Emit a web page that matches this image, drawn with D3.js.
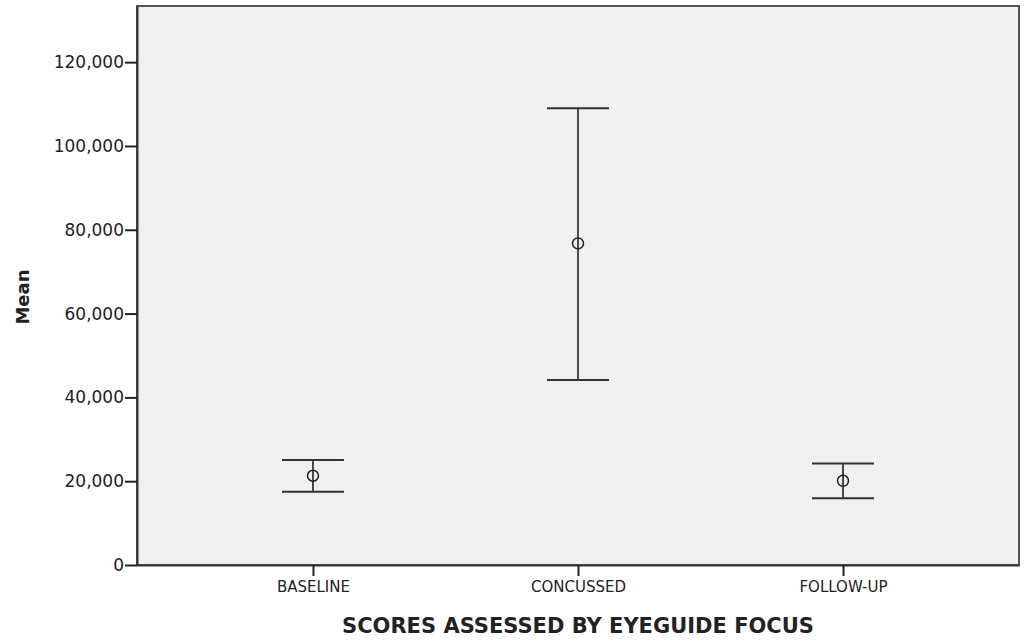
<!DOCTYPE html>
<html>
<head>
<meta charset="utf-8">
<script src="https://cdn.jsdelivr.net/npm/d3@7"></script>
<style>
  body { margin: 0; background: #fff; }
  svg { display: block; }
  text { font-family: "DejaVu Sans", sans-serif; fill: #222; }
</style>
</head>
<body>
<svg id="chart" width="1027" height="641"></svg>
<script>
// groups and their error-bar values
const groups = ['BASELINE', 'CONCUSSED', 'FOLLOW-UP'];
const means = [21300, 76750, 20100];
const lower = [17500, 44150, 15900];
const upper = [25050, 109000, 24250];
const yTicks = [0, 20000, 40000, 60000, 80000, 100000, 120000];

const width = 1027;
const height = 641;
const margin = { top: 6, right: 8, bottom: 76, left: 137 };
const plotW = width - margin.left - margin.right;
const plotH = height - margin.top - margin.bottom;

const svg = d3.select('#chart');
const g = svg.append('g').attr('transform', `translate(${margin.left},${margin.top})`);

const x = d3.scalePoint().domain(groups).range([0, plotW]).padding(0.664);
const y = d3.scaleLinear().domain([0, 133400]).range([plotH, 0]);

// plot background + frame
g.append('rect')
  .attr('width', plotW)
  .attr('height', plotH)
  .attr('fill', '#f0f0f0')
  .attr('stroke', '#555')
  .attr('stroke-width', 2);

// y axis
const fmt = d3.format(',');
const yAxis = g.append('g')
  .call(d3.axisLeft(y).tickValues(yTicks).tickFormat(fmt).tickSize(12).tickSizeOuter(0).tickPadding(1));
yAxis.select('.domain').attr('stroke', '#333').attr('stroke-width', 2);
yAxis.selectAll('.tick line').attr('stroke', '#222').attr('stroke-width', 2);
yAxis.selectAll('.tick text').style('font-size', '17px').attr('fill', '#222');

// x axis
const xAxis = g.append('g')
  .attr('transform', `translate(0,${plotH})`)
  .call(d3.axisBottom(x).tickSize(11).tickSizeOuter(0).tickPadding(5));
xAxis.select('.domain').attr('stroke', '#333').attr('stroke-width', 2);
xAxis.selectAll('.tick line').attr('stroke', '#222').attr('stroke-width', 2);
xAxis.selectAll('.tick text').style('font-size', '15px').attr('fill', '#222');

// error bars
const capHalf = 31;
const bars = g.selectAll('.bar')
  .data(groups)
  .join('g')
  .attr('class', 'bar')
  .attr('transform', d => `translate(${x(d)},0)`);

bars.append('line')
  .attr('y1', (d, i) => y(lower[i]))
  .attr('y2', (d, i) => y(upper[i]))
  .attr('stroke', '#222')
  .attr('stroke-width', 1.6);

bars.append('line')
  .attr('x1', -capHalf).attr('x2', capHalf)
  .attr('y1', (d, i) => y(upper[i]))
  .attr('y2', (d, i) => y(upper[i]))
  .attr('stroke', '#333')
  .attr('stroke-width', 2);

bars.append('line')
  .attr('x1', -capHalf).attr('x2', capHalf)
  .attr('y1', (d, i) => y(lower[i]))
  .attr('y2', (d, i) => y(lower[i]))
  .attr('stroke', '#333')
  .attr('stroke-width', 2);

bars.append('circle')
  .attr('cy', (d, i) => y(means[i]))
  .attr('r', 5.5)
  .attr('fill', 'none')
  .attr('stroke', '#222')
  .attr('stroke-width', 1.5);

// axis titles
svg.append('text')
  .attr('x', margin.left + plotW / 2)
  .attr('y', 633)
  .attr('text-anchor', 'middle')
  .style('font-size', '21px')
  .style('font-weight', 'bold')
  .text('SCORES ASSESSED BY EYEGUIDE FOCUS');

svg.append('text')
  .attr('transform', 'translate(29,297) rotate(-90)')
  .attr('text-anchor', 'middle')
  .style('font-size', '18px')
  .style('font-weight', 'bold')
  .text('Mean');
</script>
</body>
</html>
